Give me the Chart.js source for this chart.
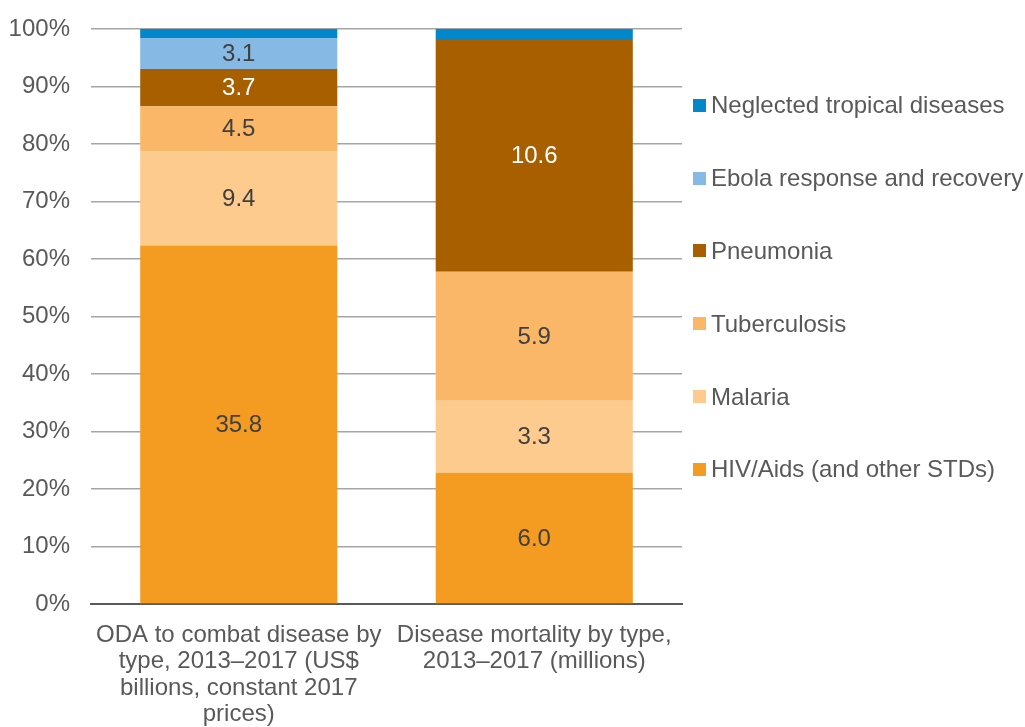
<!DOCTYPE html>
<html>
<head>
<meta charset="utf-8">
<title>ODA vs disease mortality</title>
<script src="https://cdn.jsdelivr.net/npm/chart.js@4.4.1/dist/chart.umd.min.js"></script>
<style>
  body { margin: 0; background: #fff; }
  #wrap { position: relative; width: 1025px; height: 727px; overflow: hidden; }
  #legend { position: absolute; left: 693px; top: 69px; font: 24px "Liberation Sans", Arial, sans-serif; color: #595959; }
  #legend .item { display: flex; align-items: center; height: 72.8px; white-space: nowrap; }
  #legend .box { width: 13px; height: 13px; margin-right: 5px; flex: none; }
</style>
</head>
<body>
<div id="wrap">
  <canvas id="chart" width="1025" height="727"></canvas>
  <div id="legend"></div>
</div>
<script>
// Categories (multi-line labels as drawn under the bars)
const categories = [
    ['ODA to combat disease by', 'type, 2013\u20132017 (US$', 'billions, constant 2017', 'prices)'],
    ['Disease mortality by type,', '2013\u20132017 (millions)']
];

// Raw values: US$ billions for ODA, millions of deaths for mortality
const hivValues = [35.8, 6.0];
const malariaValues = [9.4, 3.3];
const tbValues = [4.5, 5.9];
const pneumoniaValues = [3.7, 10.6];
const ebolaValues = [3.1, 0];
const ntdValues = [0.9, 0.5];

const seriesNames = ['HIV/Aids (and other STDs)', 'Malaria', 'Tuberculosis', 'Pneumonia', 'Ebola response and recovery', 'Neglected tropical diseases'];
const seriesColors = ['#F49B21', '#FCCB8D', '#F9B767', '#A85F00', '#86B9E3', '#0088CB'];
const labelColors = ['#404040', '#404040', '#404040', '#ffffff', '#404040', '#404040'];

const yTicks = [0, 10, 20, 30, 40, 50, 60, 70, 80, 90, 100];

const allSeries = [hivValues, malariaValues, tbValues, pneumoniaValues, ebolaValues, ntdValues];

// Totals per category so each bar is shown as 100%
const totals = categories.map((c, i) => allSeries.reduce((s, arr) => s + arr[i], 0));

const datasets = allSeries.map((values, k) => ({
    label: seriesNames[k],
    data: values.map((v, i) => v / totals[i] * 100),
    rawValues: values,
    backgroundColor: seriesColors[k],
    borderWidth: 0,
    categoryPercentage: 1,
    barPercentage: 0.667
}));

// Draw the value labels in the middle of each segment
const valueLabels = {
    id: 'valueLabels',
    afterDatasetsDraw(chart) {
        const ctx = chart.ctx;
        ctx.save();
        ctx.font = '24px "Liberation Sans", Arial, sans-serif';
        ctx.textAlign = 'center';
        ctx.textBaseline = 'middle';
        chart.data.datasets.forEach((ds, k) => {
            const meta = chart.getDatasetMeta(k);
            meta.data.forEach((bar, i) => {
                const h = Math.abs(bar.base - bar.y);
                if (h < 20) return;
                ctx.fillStyle = labelColors[k];
                ctx.fillText(ds.rawValues[i].toFixed(1), bar.x, (bar.y + bar.base) / 2 + 1);
            });
        });
        ctx.restore();
    }
};

const chart = new Chart(document.getElementById('chart'), {
    type: 'bar',
    data: { labels: categories, datasets: datasets },
    options: {
        responsive: false,
        animation: false,
        layout: { padding: { left: 0, top: 29, right: 343, bottom: 0 } },
        plugins: {
            legend: { display: false },
            tooltip: { enabled: false }
        },
        scales: {
            x: {
                stacked: true,
                grid: { display: false },
                border: { display: true, color: '#595959', width: 2 },
                ticks: {
                    color: '#595959',
                    padding: 10,
                    maxRotation: 0,
                    autoSkip: false,
                    font: { family: '"Liberation Sans", Arial', size: 24, lineHeight: 1.1 }
                },
                afterFit(scale) { scale.height = 123; }
            },
            y: {
                stacked: true,
                min: 0,
                max: 100,
                afterBuildTicks(scale) { scale.ticks = yTicks.map(v => ({ value: v })); },
                grid: { color: '#a6a6a6', lineWidth: 1.5, drawTicks: false },
                border: { display: false },
                ticks: {
                    color: '#595959',
                    padding: 21,
                    font: { family: '"Liberation Sans", Arial', size: 24 },
                    callback: v => v + '%'
                },
                afterFit(scale) {
                    scale.width = 91;
                    scale.paddingTop = 0;
                    scale.paddingBottom = 0;
                }
            }
        }
    },
    plugins: [valueLabels]
});

// Legend on the right, top item is the last series
const legend = document.getElementById('legend');
for (let k = seriesNames.length - 1; k >= 0; k--) {
    const item = document.createElement('div');
    item.className = 'item';
    item.innerHTML = '<span class="box" style="background:' + seriesColors[k] + '"></span><span>' + seriesNames[k] + '</span>';
    legend.appendChild(item);
}
</script>
</body>
</html>
